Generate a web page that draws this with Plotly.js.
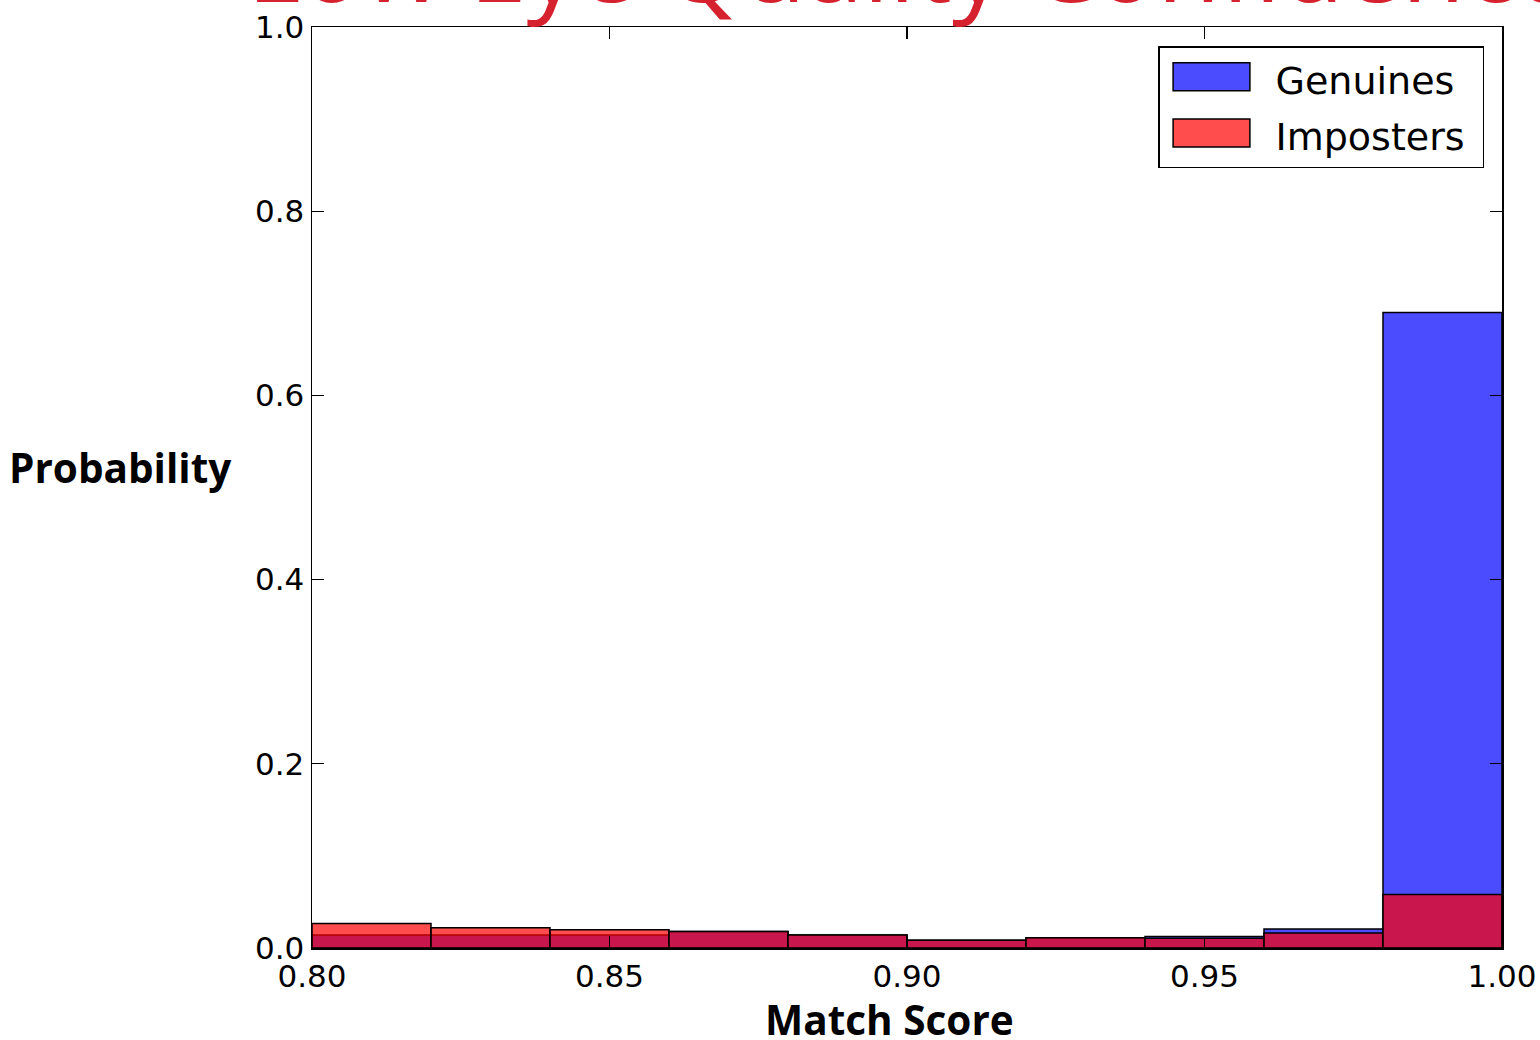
<!DOCTYPE html>
<html>
<head>
<meta charset="utf-8">
<script src="https://cdn.plot.ly/plotly-3.0.1.min.js"></script>
<style>
  html, body { margin: 0; padding: 0; background: #ffffff; }
  #chart { width: 1540px; height: 1040px; }
</style>
</head>
<body>
<div id="chart"></div>
<script>
// ---- data ----
const binLeft = [0.80, 0.82, 0.84, 0.86, 0.88, 0.90, 0.92, 0.94, 0.96, 0.98];
const binWidth = 0.02;
const genuines = [0.014, 0.014, 0.014, 0.018, 0.014, 0.0085, 0.011, 0.0125, 0.0207, 0.690];
const imposters = [0.0266, 0.022, 0.0199, 0.018, 0.014, 0.0085, 0.011, 0.0107, 0.0164, 0.058];
const xTickVals = [0.80, 0.85, 0.90, 0.95, 1.00];
const xTickText = ['0.80', '0.85', '0.90', '0.95', '1.00'];
const yTickVals = [0.0, 0.2, 0.4, 0.6, 0.8, 1.0];
const yTickText = ['0.0', '0.2', '0.4', '0.6', '0.8', '1.0'];
const seriesNames = ['Genuines', 'Imposters'];
const chartTitle = 'Low Eye Quality Confidence';
const xTitle = 'Match Score';
const yTitle = 'Probability';

const centers = binLeft.map(v => v + binWidth / 2);
const pad = '\u00a0';

const traces = [
  {
    type: 'bar', name: seriesNames[0] + pad, x: centers, y: genuines, width: binWidth,
    legendgroup: 'g1',
    marker: { color: 'rgba(0,0,255,0.7)', line: { color: '#000000', width: 1.5 } },
    hoverinfo: 'x+y'
  },
  {
    type: 'bar', name: seriesNames[1] + pad, x: centers, y: imposters, width: binWidth,
    legendgroup: 'g2',
    marker: { color: 'rgba(255,0,0,0.7)', line: { color: '#000000', width: 1.5 } },
    hoverinfo: 'x+y'
  }
];

const tickFont = { family: 'DejaVu Sans', size: 31, color: '#000000' };
const labelFont = { family: 'Open Sans', size: 40.5, color: '#000000', weight: 'bold' };

const layout = {
  width: 1540, height: 1040,
  paper_bgcolor: '#ffffff', plot_bgcolor: '#ffffff',
  margin: { l: 312, r: 38, t: 27, b: 92, pad: 0 },
  barmode: 'overlay',
  bargap: 0,
  showlegend: true,
  title: {
    text: chartTitle,
    font: { family: 'Open Sans', size: 103, color: '#d6222e' },
    x: 247 / 1540, xanchor: 'left', xref: 'container',
    y: 1 - 2 / 1040, yanchor: 'bottom', yref: 'container',
    automargin: false
  },
  xaxis: {
    range: [0.8, 1.0], tickvals: xTickVals, ticktext: xTickText,
    ticks: 'inside', ticklen: 12, tickwidth: 1.3, tickcolor: '#000000',
    showline: true, linecolor: '#000000', linewidth: 1.5, mirror: 'allticks',
    showgrid: false, zeroline: false, tickfont: tickFont, fixedrange: true
  },
  yaxis: {
    range: [0, 1.0], tickvals: yTickVals, ticktext: yTickText,
    ticks: 'inside', ticklen: 12, tickwidth: 1.3, tickcolor: '#000000',
    showline: true, linecolor: '#000000', linewidth: 1.5, mirror: 'allticks',
    showgrid: false, zeroline: false, tickfont: tickFont, fixedrange: true
  },
  legend: {
    x: (1484 - 312) / 1190, xanchor: 'right',
    y: 1 - (46 - 27) / 921, yanchor: 'top',
    bgcolor: '#ffffff', bordercolor: '#000000', borderwidth: 1.5,
    font: { family: 'DejaVu Sans', size: 38, color: '#000000' },
    itemwidth: 106, traceorder: 'grouped', tracegroupgap: 4
  },
  annotations: [
    {
      text: yTitle, xref: 'paper', yref: 'paper',
      x: (121 - 312) / 1190, y: 1 - (467 - 27) / 921,
      xanchor: 'center', yanchor: 'middle', showarrow: false, font: labelFont
    },
    {
      text: xTitle, xref: 'paper', yref: 'paper',
      x: (889 - 312) / 1190, y: 1 - (1019 - 27) / 921,
      xanchor: 'center', yanchor: 'middle', showarrow: false, font: labelFont
    }
  ]
};

Plotly.newPlot('chart', traces, layout, { displayModeBar: false, staticPlot: true }).then(gd => {
  // widen the legend patches to look like matplotlib's rectangles
  gd.querySelectorAll('.legend .traces').forEach(tr => {
    const txt = tr.querySelector('text.legendtext');
    const tx = txt ? parseFloat(txt.getAttribute('x')) : 40;
    tr.querySelectorAll('.legendpoints path').forEach(p => {
      p.setAttribute('transform', 'translate(' + (tx - 64) + ',-2) scale(6.4,2.33)');
      p.style.vectorEffect = 'non-scaling-stroke';
    });
  });
});
</script>
</body>
</html>
